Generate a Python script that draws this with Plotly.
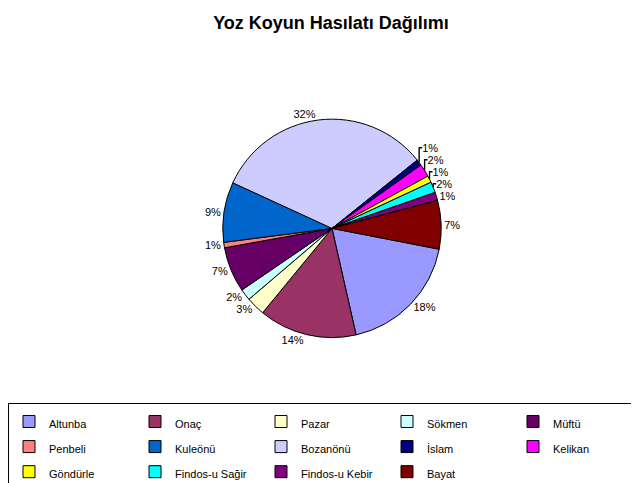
import plotly.graph_objects as go

labels = ["Altunba", "Onaç", "Pazar", "Sökmen", "Müftü", "Penbeli", "Kuleönü",
          "Bozanönü", "İslam", "Kelikan", "Göndürle", "Findos-u Sağir",
          "Findos-u Kebir", "Bayat"]
values = [18.4, 14.5, 2.8, 1.7, 6.7, 0.8, 8.9, 32.4, 0.9, 1.9, 1.0, 1.6, 1.2, 7.2]
colors = ["#9999FF", "#993366", "#FFFFCC", "#CCFFFF", "#660066", "#FF8080", "#0066CC",
          "#CCCCFF", "#000080", "#FF00FF", "#FFFF00", "#00FFFF", "#800080", "#800000"]

# legend text shown small, while the legend font size sets the taller row spacing
legend_text = ['<span style="font-size:11px">%s</span>' % s for s in labels]

H, W = 483, 639
fig = go.Figure(go.Pie(
    labels=legend_text, values=values, sort=False, direction="clockwise", rotation=101,
    marker=dict(colors=colors, line=dict(color="black", width=1)),
    texttemplate="%{percent:.0%}", textposition="outside",
    textfont=dict(family="Liberation Sans, Arial", size=11, color="black"),
    domain=dict(x=[212/W, 436/W], y=[(H-338)/H, (H-114)/H]),
    hovertemplate="%{label}: %{percent}<extra></extra>",
))
fig.update_layout(
    width=W, height=H, margin=dict(l=0, r=0, t=0, b=0),
    paper_bgcolor="white", plot_bgcolor="white",
    title=dict(text="<b>Yoz Koyun Hasılatı Dağılımı</b>", x=323/W, xanchor="center",
               y=1-15/H, yanchor="middle",
               font=dict(family="Liberation Sans, Arial", size=18, color="black")),
    legend=dict(orientation="h", x=0, xanchor="left", y=1-405/H, yanchor="top",
                entrywidth=81, entrywidthmode="pixels", traceorder="normal",
                bordercolor="black", borderwidth=1, bgcolor="white",
                font=dict(family="Liberation Sans, Arial", size=17, color="black"),
                itemwidth=30),
)
fig.write_html("out.html")
